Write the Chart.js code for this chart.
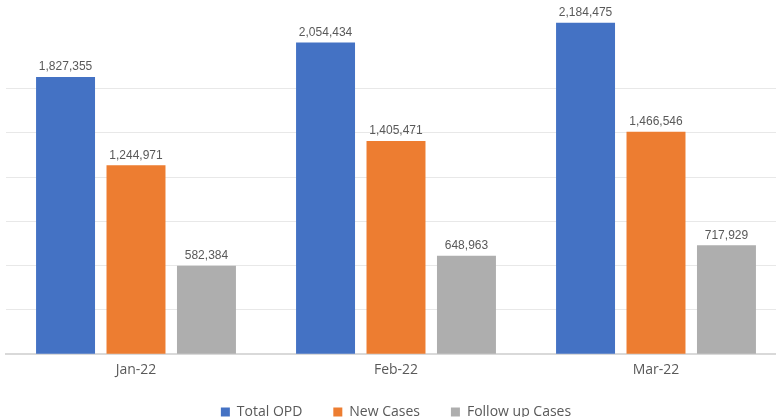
<!DOCTYPE html>
<html>
<head>
<meta charset="utf-8">
<script src="https://cdn.jsdelivr.net/npm/chart.js@4"></script>
<style>
  html, body { margin: 0; padding: 0; background: #fff; overflow: hidden; }
  #wrap { width: 790px; height: 429px; position: relative; }
</style>
</head>
<body>
<div id="wrap"><canvas id="opd-chart"></canvas></div>
<script>
const months = ['Jan-22', 'Feb-22', 'Mar-22'];
const totalOpd = [1827355, 2054434, 2184475];
const newCases = [1244971, 1405471, 1466546];
const followUp = [582384, 648963, 717929];

// draws the value above each bar, like the Excel data labels
const valueLabels = {
    id: 'valueLabels',
    afterDatasetsDraw(chart) {
        const ctx = chart.ctx;
        ctx.save();
        ctx.font = '12px "Liberation Sans", Arial, sans-serif';
        ctx.fillStyle = '#595959';
        ctx.textAlign = 'center';
        ctx.textBaseline = 'bottom';
        chart.data.datasets.forEach((ds, i) => {
            chart.getDatasetMeta(i).data.forEach((bar, j) => {
                ctx.fillText(ds.data[j].toLocaleString('en-US'), bar.x, bar.y - 4);
            });
        });
        ctx.restore();
    }
};

document.addEventListener('DOMContentLoaded', function() {
    var ctx = document.getElementById('opd-chart');
    new Chart(ctx, {
        type: 'bar',
        data: {
            labels: months,
            datasets: [
                { label: 'Total OPD', data: totalOpd, backgroundColor: '#4472C4' },
                { label: 'New Cases', data: newCases, backgroundColor: '#ED7D31' },
                { label: 'Follow up Cases', data: followUp, backgroundColor: '#AEAEAE' }
            ]
        },
        options: {
            responsive: true,
            maintainAspectRatio: false,
            animation: false,
            categoryPercentage: 0.813,
            barPercentage: 0.837,
            layout: { padding: { left: 6, right: 4, top: 0, bottom: 0 } },
            plugins: {
                legend: {
                    position: 'bottom',
                    labels: {
                        color: '#595959',
                        font: { family: '"Open Sans"', size: 14 },
                        boxWidth: 9,
                        boxHeight: 9,
                        padding: 20,
                        // a little extra room after each item, the padding also sets the vertical gap
                        generateLabels: (chart) => {
                            const items = Chart.defaults.plugins.legend.labels.generateLabels(chart);
                            items.forEach((it, i) => {
                                if (i < items.length - 1) it.text += '\u00a0\u00a0\u00a0';
                            });
                            return items;
                        }
                    }
                },
                tooltip: { enabled: false }
            },
            scales: {
                x: {
                    grid: { display: false, drawTicks: false },
                    border: { color: '#d9d9d9', width: 2 },
                    ticks: {
                        color: '#595959',
                        font: { family: '"Open Sans"', size: 14 },
                        padding: 7
                    }
                },
                y: {
                    min: 0,
                    max: 2335000,
                    border: { display: false },
                    ticks: { display: false, stepSize: 300000 },
                    grid: {
                        drawTicks: false,
                        color: (c) => (c.tick && c.tick.value > 0 && c.tick.value <= 1800000) ? '#e8e8e8' : 'rgba(0,0,0,0)'
                    }
                }
            }
        },
        plugins: [valueLabels]
    });
});
</script>
</body>
</html>
